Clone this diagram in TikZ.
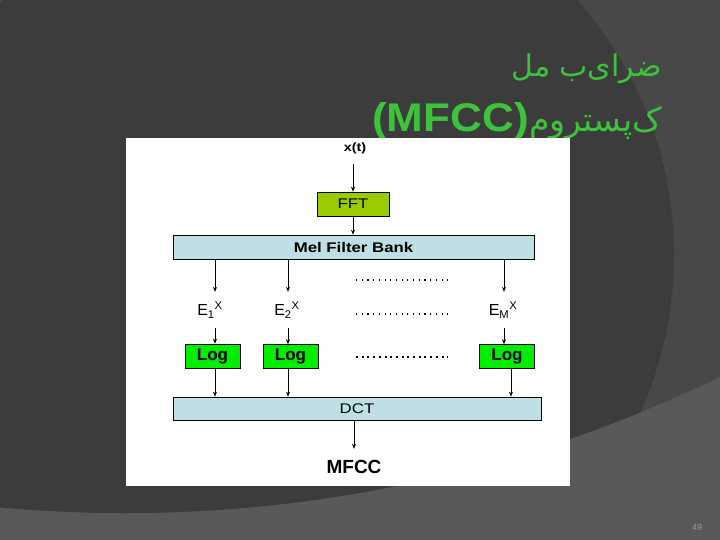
\documentclass[tikz,border=0pt]{standalone}
\usepackage{fontspec}
\setmainfont{Liberation Sans}
\newfontfamily\diagfont[FakeStretch=1.2]{Liberation Sans}
\newfontfamily\titlefont[FakeStretch=1.1]{Liberation Sans}
\newfontfamily\arabicfont[Script=Arabic]{DejaVu Sans}
\TeXXeTstate=1
\usetikzlibrary{arrows.meta, positioning, calc}
\definecolor{bgDark}{RGB}{60, 60, 60}
\definecolor{bgMid}{RGB}{72, 72, 72}
\definecolor{bgLight}{RGB}{89, 89, 89}
\definecolor{titleGreen}{RGB}{60, 195, 60}
\definecolor{fftGreen}{RGB}{153, 204, 0}
\definecolor{logGreen}{RGB}{0, 238, 0}
\definecolor{bankBlue}{RGB}{190, 224, 229}
\definecolor{pageGray}{RGB}{150, 150, 150}
\tikzset{
  fftbox/.style={
    rectangle, draw=black, line width=0.7pt, fill=fftGreen,
    minimum width=72pt, minimum height=24pt, inner sep=0pt,
    font=\diagfont\fontsize{14}{16}\selectfont
  },
  bankbox/.style={
    rectangle, draw=black, line width=0.7pt, fill=bankBlue,
    minimum height=24pt, inner sep=0pt,
    font=\diagfont\fontsize{14}{16}\selectfont
  },
  logbox/.style={
    rectangle, draw=black, line width=0.7pt, fill=logGreen,
    minimum width=55pt, minimum height=24pt, inner sep=0pt,
    font=\bfseries\fontsize{17}{19}\selectfont
  },
  sigtext/.style={
    inner sep=0pt, minimum height=36pt,
    font=\fontsize{16}{18}\selectfont
  },
  sigarrow/.style={
    -{Stealth[length=5pt,width=4pt]}, line width=0.6pt, color=black
  },
  dotrow/.style={
    line width=1.1pt, dash pattern=on 1.1pt off 4.6pt
  },
  titletext/.style={
    anchor=base east, inner sep=0pt, text=titleGreen
  }
}

\begin{document}
\begin{tikzpicture}[x=1pt, y=-1pt]

  % slide background
  \useasboundingbox (0,0) rectangle (720,540);
  \clip (0,0) rectangle (720,540);
  \fill[bgLight] (0,0) rectangle (720,540);
  \fill[bgMid] (125,-852) circle[radius=1365pt];
  \begin{scope}
    \clip (125,-852) circle[radius=1365pt];
    \fill[bgDark] (290,255) circle[radius=384pt];
  \end{scope}

  % title
  \node[titletext, font=\arabicfont\fontsize{30}{36}\selectfont] (titleA) at (662,77)
    {\beginR ضرای‌ب مل\endR};
  \node[titletext, font=\arabicfont\fontsize{33}{38}\selectfont] (titleB) at (662,132)
    {\beginR ک‌پستروم\endR};
  \node[titletext, font=\titlefont\bfseries\fontsize{40}{44}\selectfont] (titleC)
    at (titleB.base west) {(MFCC)};

  % white panel
  \fill[white] (126,138) rectangle (570,486);

  \node[sigtext, minimum height=32pt, font=\diagfont\bfseries\fontsize{12}{14}\selectfont] (xt)
    at (355,148) {x(t)};
  \node[fftbox] (fft) at (353,204) {FFT};
  \node[bankbox, minimum width=361pt, font=\diagfont\bfseries\fontsize{14}{16}\selectfont] (bank)
    at (353.5,247) {Mel Filter Bank};

  \coordinate (col1) at (215,0);
  \coordinate (col2) at (288,0);
  \coordinate (colM) at (504,0);
  \coordinate (colMo) at (511,0);

  \node[sigtext] (e1) at (210,310) {E\textsubscript{1}\textsuperscript{X}};
  \node[sigtext] (e2) at (287,310) {E\textsubscript{2}\textsuperscript{X}};
  \node[sigtext] (eM) at (503,310) {E\textsubscript{M}\textsuperscript{X}};

  \node[logbox] (log1) at (212.5,356) {Log};
  \node[logbox] (log2) at (290.5,356.5) {Log};
  \node[logbox] (logM) at (507,356.5) {Log};

  \node[bankbox, minimum width=368pt, minimum height=23pt] (dct) at (357,408.5) {DCT};
  \node[sigtext, font=\bfseries\fontsize{19}{21}\selectfont] (mfcc) at (354,467) {MFCC};

  % dotted rows
  \coordinate (dotAa) at (356,280);
  \coordinate (dotAb) at (448,280);
  \coordinate (dotBa) at (356,314);
  \coordinate (dotBb) at (448,314);
  \coordinate (dotCa) at (356,357);
  \coordinate (dotCb) at (448,357);
  \draw[dotrow] (dotAa) -- (dotAb);
  \draw[dotrow] (dotBa) -- (dotBb);
  \draw[dotrow, line width=2pt, dash pattern=on 2pt off 3.7pt] (dotCa) -- (dotCb);

  \draw[sigarrow] (xt.south -| fft) -- (fft.north);
  \draw[sigarrow] (fft.south) -- (bank.north -| fft);
  \draw[sigarrow] (bank.south -| col1) -- (e1.north -| col1);
  \draw[sigarrow] (bank.south -| col2) -- (e2.north -| col2);
  \draw[sigarrow] (bank.south -| colM) -- (eM.north -| colM);
  \draw[sigarrow] (e1.south -| col1) -- (log1.north -| col1);
  \draw[sigarrow] (e2.south -| col2) -- (log2.north -| col2);
  \draw[sigarrow] (eM.south -| colM) -- (logM.north -| colM);
  \draw[sigarrow] (log1.south -| col1) -- (dct.north -| col1);
  \draw[sigarrow] (log2.south -| col2) -- (dct.north -| col2);
  \draw[sigarrow] (logM.south -| colMo) -- (dct.north -| colMo);
  \draw[sigarrow] (dct.south -| mfcc) -- (mfcc.north);

  \node[font=\fontsize{9}{10}\selectfont, text=pageGray] (pagenum) at (697,527) {49};

\end{tikzpicture}
\end{document}
